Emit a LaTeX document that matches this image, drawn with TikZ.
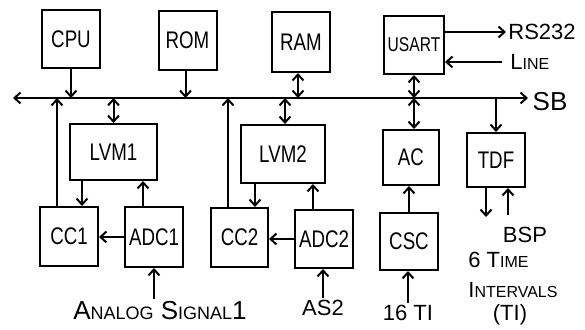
\documentclass[tikz,border=0pt]{standalone}
\usepackage{fontspec}
\setmainfont{Liberation Sans}
\newfontfamily\blockfont{Liberation Sans}[FakeStretch=0.78]
\usetikzlibrary{arrows.meta}
\newcommand{\smcap}[2]{#1{\fontsize{8}{10}\selectfont #2}}
\tikzset{
  sbbox/.style={
    draw, line width=1pt, inner sep=0pt,
    minimum width=29pt, minimum height=29pt,
    font=\blockfont\fontsize{12}{14}\selectfont
  },
  sbarrow/.style={
    ->, >={Straight Barb[length=3pt,width=5.5pt]}, line width=1pt
  },
  sblink/.style={
    <->, >={Straight Barb[length=3pt,width=5.5pt]}, line width=1pt
  },
  sblabel/.style={
    font=\fontsize{11}{13}\selectfont, inner sep=1pt
  },
}

\begin{document}
\begin{tikzpicture}[x=0.5pt, y=-0.5pt]
  \useasboundingbox (0,0) rectangle (585,330);
  % system bus
  \coordinate (sbL) at (13,98);
  \coordinate (sbR) at (528,98);
  \draw[sblink] (sbL) -- (sbR);
  \node[sblabel, font=\fontsize{13}{15}\selectfont] (sb) at (550,102) {SB};

  % top row
  \node[sbbox] (cpu) at (71,39) {CPU};
  \node[sbbox, minimum height=29.5pt] (rom) at (187.5,40.5) {ROM};
  \node[sbbox, minimum height=30pt] (ram) at (301,42) {RAM};
  \node[sbbox, minimum width=30pt, font=\blockfont\fontsize{10}{12}\selectfont]
        (usart) at (414,45) {USART};

  % middle row
  \node[sbbox, minimum width=43.5pt, minimum height=28pt] (lvm1) at (113.5,152) {LVM1};
  \node[sbbox, minimum width=42pt] (lvm2) at (283,154) {LVM2};
  \node[sbbox, minimum width=28pt, minimum height=27.5pt] (ac) at (411,157.5) {AC};
  \node[sbbox, minimum height=27pt] (tdf) at (496,160) {TDF};

  % bottom row
  \node[sbbox, minimum height=29.5pt] (cc1) at (69,236.5) {CC1};
  \node[sbbox, minimum height=30pt] (adc1) at (154,237) {ADC1};
  \node[sbbox, minimum width=28.5pt, minimum height=29.5pt] (cc2) at (239.5,237.5) {CC2};
  \node[sbbox] (adc2) at (324,239) {ADC2};
  \node[sbbox, minimum height=28.5pt] (csc) at (409,241.5) {CSC};

  % bus connections
  \draw[sbarrow] (cpu) -- (cpu |- sbL);
  \draw[sbarrow] ([xshift=-1pt]rom.south) -- ([xshift=-1pt]rom.south |- sbL);
  \draw[sblink] ([xshift=-1.5pt]ram.south) -- ([xshift=-1.5pt]ram.south |- sbL);
  \draw[sblink] (usart) -- (usart |- sbL);
  \draw[sblink] (usart |- sbL) -- (usart |- ac.north);
  \draw[sbarrow] (tdf |- sbL) -- (tdf);
  \draw[sblink] (lvm1 |- sbL) -- (lvm1);
  \draw[sblink] ([xshift=1pt]lvm2.north |- sbL) -- ([xshift=1pt]lvm2.north);
  \draw[sbarrow] ([xshift=-6pt]cc1.north) -- ([xshift=-6pt]cc1.north |- sbL);
  \draw[sbarrow] ([xshift=-5.75pt]cc2.north) -- ([xshift=-5.75pt]cc2.north |- sbL);

  % channel 1
  \draw[sbarrow] ([xshift=6.5pt]cc1.north |- lvm1.south) -- ([xshift=6.5pt]cc1.north);
  \draw[sbarrow] ([xshift=-5.5pt]adc1.north) -- ([xshift=-5.5pt]adc1.north |- lvm1.south);
  \draw[sbarrow] (adc1) -- (adc1 -| cc1.east);

  % channel 2
  \draw[sbarrow] ([xshift=7.75pt]cc2.north |- lvm2.south) -- ([xshift=7.75pt]cc2.north);
  \draw[sbarrow] ([xshift=-5.5pt]adc2.north) -- ([xshift=-5.5pt]adc2.north |- lvm2.south);
  \draw[sbarrow] (adc2) -- (adc2 -| cc2.east);

  \draw[sbarrow] (csc) -- (csc |- ac.south);

  % inputs and outputs
  \node[sblabel, font=\fontsize{13}{15}\selectfont] (asig1) at (160,311)
        {\smcap{A}{\fontsize{9}{11}\selectfont NALOG} \smcap{S}{\fontsize{9}{11}\selectfont IGNAL}1};
  \draw[sbarrow] (adc1 |- asig1.north) -- (adc1.south);
  \node[sblabel] (as2) at (323,308) {AS2};
  \draw[sbarrow] (as2.north) -- (as2.north |- adc2.south);
  \node[sblabel] (ti16) at (408,313) {16 TI};
  \draw[sbarrow] (ti16.north) -- (ti16.north |- csc.south);

  \node[sblabel, anchor=west] (rs) at (506,32) {RS232};
  \draw[sbarrow] (usart.east |- rs) -- (rs.west);
  \node[sblabel, anchor=west] (line) at (508,62) {\smcap{L}{INE}};
  \draw[sbarrow] ([xshift=-3pt]line.west) -- (line -| usart.east);

  \coordinate (tdfout) at (486,217);
  \draw[sbarrow] (tdfout |- tdf.south) -- (tdfout);
  \coordinate (bspin) at (508,215);
  \draw[sbarrow] (bspin) -- (bspin |- tdf.south);
  \node[sblabel] (bsp) at (525,235) {BSP};
  \node[sblabel, anchor=west] (ti1) at (466,260) {6 \smcap{T}{IME}};
  \node[sblabel, anchor=west] (ti2) at (466,290) {\smcap{I}{NTERVALS}};
  \node[sblabel] (ti3) at (510,315) {(TI)};
\end{tikzpicture}
\end{document}
